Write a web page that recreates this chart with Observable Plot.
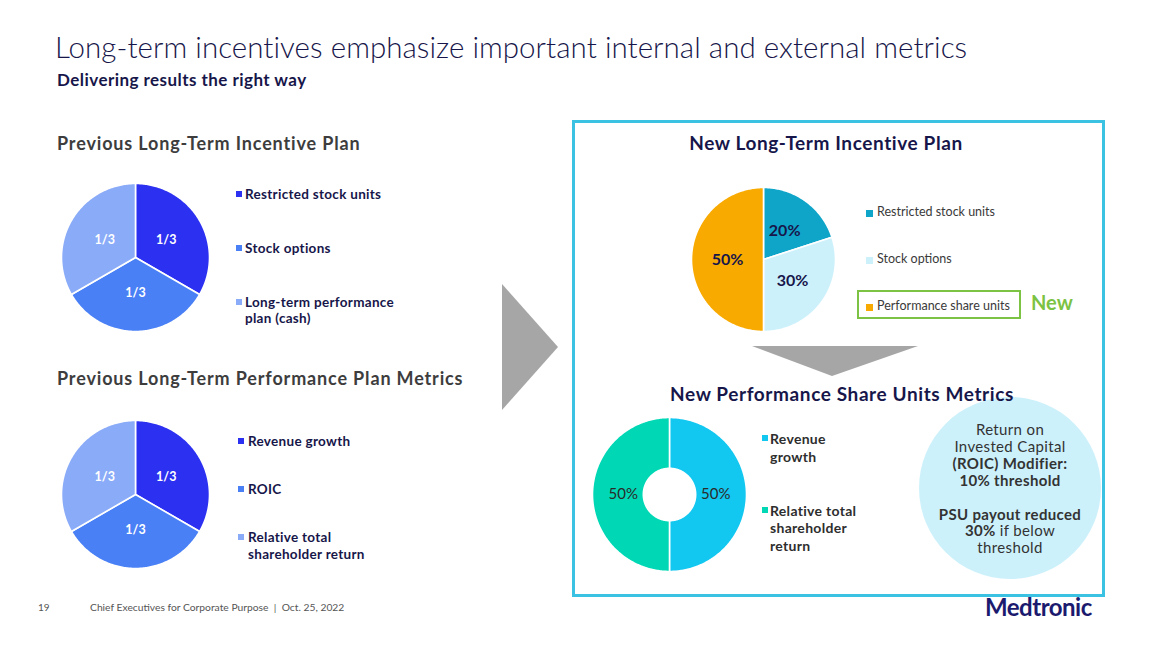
<!DOCTYPE html>
<html><head><meta charset="utf-8">
<script src="https://cdn.jsdelivr.net/npm/d3@7"></script>
<script src="https://cdn.jsdelivr.net/npm/@observablehq/plot@0.6"></script>
<style>
body{margin:0;background:#fff;font-family:Lato,"Open Sans",sans-serif;}
#slide{position:relative;width:1152px;height:648px;overflow:hidden;background:#fff;}
.t{position:absolute;white-space:nowrap;line-height:1.2;}
.sq{position:absolute;}
.pie{position:absolute;}
.pie svg{display:block;overflow:visible;}
</style></head><body><div id="slide"></div>
<script>
// ---------- data ----------
const prevPlanCategories = ["Restricted stock units", "Stock options", "Long-term performance plan (cash)"];
const prevPlanValues = [1/3, 1/3, 1/3];
const prevPlanLabels = ["1/3", "1/3", "1/3"];

const prevMetricCategories = ["Revenue growth", "ROIC", "Relative total shareholder return"];
const prevMetricValues = [1/3, 1/3, 1/3];
const prevMetricLabels = ["1/3", "1/3", "1/3"];

const newPlanCategories = ["Restricted stock units", "Stock options", "Performance share units"];
const newPlanValues = [20, 30, 50];
const newPlanLabels = ["20%", "30%", "50%"];

const psuCategories = ["Revenue growth", "Relative total shareholder return"];
const psuValues = [50, 50];
const psuLabels = ["50%", "50%"];

const roicLines = ["Return on", "Invested Capital", "(ROIC) Modifier:", "10% threshold", "", "PSU payout reduced", "30% if below", "threshold"];

// ---------- styles ----------
const prevColors = ["#2c30f1", "#4a80f6", "#8aabf8"];
const newPlanColors = ["#0fa5c9", "#cdf1fb", "#f9aa00"];
const psuColors = ["#12c7f0", "#00d8b5"];
const navy = "#17164a";

const slide = document.getElementById("slide");

function text(str, x, y, style = {}, anchor = "start") {
  const d = document.createElement("div");
  d.className = "t";
  d.innerHTML = str;
  d.style.left = x + "px";
  d.style.top = y + "px";
  const tx = anchor === "middle" ? "-50%" : "0";
  d.style.transform = `translate(${tx}, calc(-50% + 0.02em))`;
  Object.assign(d.style, style);
  slide.appendChild(d);
  return d;
}
function square(x, y, s, color) {
  const d = document.createElement("div");
  d.className = "sq";
  Object.assign(d.style, {left: x + "px", top: (y - s / 2) + "px", width: s + "px", height: s + "px", background: color});
  slide.appendChild(d);
}

function pieChart({cats, vals, labels, colors, cx, cy, r, inner = 0, labelFrac = 0.5, labelStyle}) {
  const arcs = d3.pie().sort(null).value(d => d)(vals);
  const pts = [];
  arcs.forEach((a, i) => {
    const n = Math.max(4, Math.ceil((a.endAngle - a.startAngle) / 0.015));
    const ang = d3.range(n + 1).map(k => a.startAngle + (a.endAngle - a.startAngle) * k / n);
    if (inner === 0) pts.push({cat: cats[i], x: 0, y: 0});
    ang.forEach(t => pts.push({cat: cats[i], x: Math.sin(t), y: Math.cos(t)}));
    if (inner > 0) ang.slice().reverse().forEach(t => pts.push({cat: cats[i], x: inner * Math.sin(t), y: inner * Math.cos(t)}));
  });
  const lab = arcs.map((a, i) => {
    const m = (a.startAngle + a.endAngle) / 2;
    return {label: labels[i], x: labelFrac * Math.sin(m), y: labelFrac * Math.cos(m)};
  });
  const size = 2 * r;
  const p = Plot.plot({
    width: size, height: size, margin: 0,
    style: {background: "transparent", overflow: "visible"},
    x: {domain: [-1, 1], axis: null},
    y: {domain: [-1, 1], axis: null},
    color: {domain: cats, range: colors},
    marks: [
      Plot.line(pts, {x: "x", y: "y", z: "cat", fill: "cat", stroke: "white", strokeWidth: 1.6, curve: "linear-closed"}),
      Plot.text(lab, {x: "x", y: "y", text: "label", ...labelStyle})
    ]
  });
  const wrap = document.createElement("div");
  wrap.className = "pie";
  wrap.style.left = (cx - r) + "px";
  wrap.style.top = (cy - r) + "px";
  wrap.appendChild(p);
  slide.appendChild(wrap);
}

// ---------- header ----------
text("Long-term incentives emphasize important internal and external metrics", 55, 46, {fontSize: "29.5px", fontWeight: 300, color: navy, letterSpacing: "0.05px"});
text("Delivering results the right way", 57, 80, {fontSize: "17px", fontWeight: 700, color: navy, letterSpacing: "0.45px"});

// ---------- left: previous plan ----------
const secStyle = {fontSize: "18px", fontWeight: 700, color: "#3d3d3d", letterSpacing: "0.85px"};
text("Previous Long-Term Incentive Plan", 57, 143, secStyle);
pieChart({cats: prevPlanCategories, vals: prevPlanValues, labels: prevPlanLabels, colors: prevColors,
  cx: 135, cy: 257, r: 74, labelFrac: 0.48,
  labelStyle: {fill: "white", fontSize: 12.5, fontWeight: 700, fontFamily: "Lato"}});
const legStyle = {fontSize: "13.5px", fontWeight: 700, color: navy, letterSpacing: "0.3px"};
const prevLegY = [194, 248, 310];
prevPlanCategories.forEach((c, i) => {
  square(236, [194, 248, 302][i], 6, prevColors[i]);
  text(c, 245, prevLegY[i], Object.assign({}, legStyle, {whiteSpace: "normal", width: "175px", lineHeight: "16px"}));
});

text("Previous Long-Term Performance Plan Metrics", 57, 378, secStyle);
pieChart({cats: prevMetricCategories, vals: prevMetricValues, labels: prevMetricLabels, colors: prevColors,
  cx: 135, cy: 494, r: 74, labelFrac: 0.48,
  labelStyle: {fill: "white", fontSize: 12.5, fontWeight: 700, fontFamily: "Lato"}});
const prevMetLegY = [441, 489, 545.5];
prevMetricCategories.forEach((c, i) => {
  square(238, [441, 489, 537][i], 6, prevColors[i]);
  text(c, 248, prevMetLegY[i], Object.assign({}, legStyle, {whiteSpace: "normal", width: "140px", lineHeight: "17px"}));
});

// ---------- arrows & box (decoration) ----------
const deco = document.createElementNS("http://www.w3.org/2000/svg", "svg");
deco.setAttribute("width", 1152); deco.setAttribute("height", 648);
deco.style.position = "absolute"; deco.style.left = "0"; deco.style.top = "0";
deco.innerHTML = `
  <polygon points="502,284 558,347 502,410" fill="#a6a6a6"/>
  <rect x="573.5" y="121.5" width="530" height="474" fill="none" stroke="#3bc1e1" stroke-width="3"/>
  <polygon points="752,346 918,346 832,376" fill="#a6a6a6"/>
  <circle cx="1010" cy="488" r="91" fill="#cdf1fb"/>
  <rect x="858" y="291" width="162" height="27" fill="none" stroke="#7cc243" stroke-width="2"/>`;
slide.appendChild(deco);

// ---------- right: new plan ----------
const newSec = {fontSize: "19px", fontWeight: 700, color: navy, letterSpacing: "0.6px"};
text("New Long-Term Incentive Plan", 826, 143, newSec, "middle");
pieChart({cats: newPlanCategories, vals: newPlanValues, labels: newPlanLabels, colors: newPlanColors,
  cx: 763, cy: 259, r: 72, labelFrac: 0.5,
  labelStyle: {fill: navy, fontSize: 16, fontWeight: 700, fontFamily: "Lato"}});
const newLegY = [211, 258, 305];
newPlanCategories.forEach((c, i) => {
  square(866, newLegY[i] + 2, 7, newPlanColors[i]);
  text(c, 877, newLegY[i], {fontSize: "12.5px", color: "#3a3a3a"});
});
text("New", 1031, 302, {fontSize: "20px", fontWeight: 700, color: "#7cc243"});

text("New Performance Share Units Metrics", 842, 394, newSec, "middle");
pieChart({cats: psuCategories, vals: psuValues, labels: psuLabels, colors: psuColors,
  cx: 669, cy: 494, r: 77, inner: 0.34, labelFrac: 0.6,
  labelStyle: {fill: "#2a2a2a", fontSize: 15, fontFamily: "Lato"}});
const psuLegY = [447, 527.5];
psuCategories.forEach((c, i) => {
  square(762, [438, 510][i], 6, psuColors[i]);
  text(c, 770, psuLegY[i], {fontSize: "14px", fontWeight: 700, color: "#2e2e2e", letterSpacing: "0.3px", whiteSpace: "normal", width: "95px", lineHeight: "17.5px"});
});

// ROIC circle text
const boldLines = new Set([2, 3, 5]);
roicLines.forEach((l, i) => {
  if (!l) return;
  let html = l;
  if (i === 6) html = "<b>30%</b> if below";
  text(html, 1010, 429 + i * 16.9, {fontSize: "15px", fontWeight: boldLines.has(i) ? 700 : 400, color: "#333", letterSpacing: "0.35px"}, "middle");
});

// ---------- footer ----------
text("19", 38, 607, {fontSize: "10px", color: "#555"});
text("Chief Executives for Corporate Purpose &nbsp;|&nbsp; Oct. 25, 2022", 90, 607, {fontSize: "10.3px", color: "#555"});
text("Medtronic", 985, 607, {fontSize: "24px", fontWeight: 700, color: "#1b1a6e", letterSpacing: "-0.5px"});
</script>
</body></html>
